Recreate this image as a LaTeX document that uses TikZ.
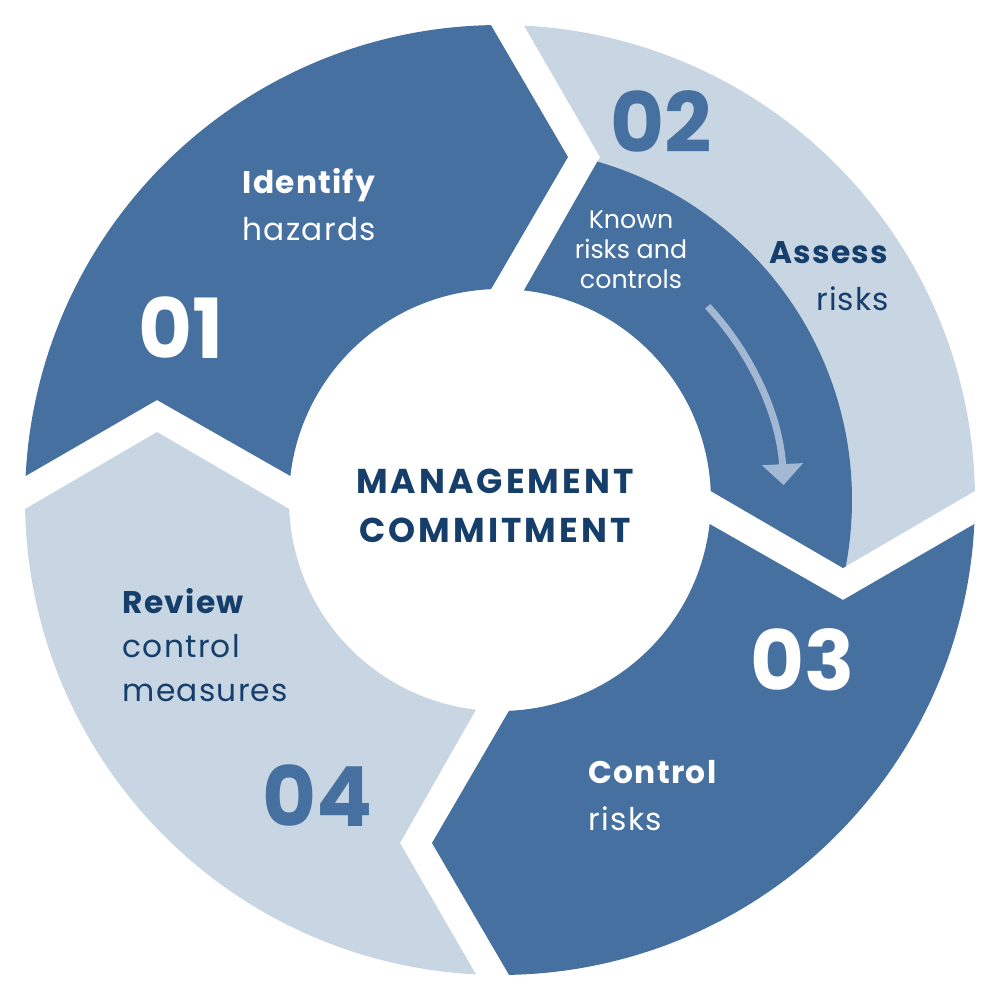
\documentclass[tikz,border=0pt]{standalone}
\usepackage{fontspec}
\setmainfont{Poppins}
\newfontfamily\segfont{Poppins}[LetterSpace=4]
\newfontfamily\hubfont{Poppins}[LetterSpace=9]
\usetikzlibrary{arrows.meta}
\definecolor{segdark}{RGB}{70,112,160}
\definecolor{seglight}{RGB}{200,214,228}
\definecolor{arrowblue}{RGB}{163,184,210}
\definecolor{navy}{RGB}{22,62,107}
% one ring segment, from 180 to 90 degrees, notch at start and point at end
\newcommand{\ringseg}{(177.1:475) -- (-343,100) -- (173.47:211)
    arc[start angle=173.47, end angle=92.44, radius=211] -- (68,343) -- (91.09:475)
    arc[start angle=91.09, end angle=177.1, radius=475] -- cycle}
\begin{document}
\begin{tikzpicture}[
    x=0.1mm, y=0.1mm,
    segtext/.style={font=\segfont\fontsize{8.9}{13.1}\selectfont, inner sep=0pt, align=left},
    segnum/.style={font=\fontsize{23.6}{24}\selectfont\bfseries, inner sep=0pt},
    hubtext/.style={font=\hubfont\fontsize{9.8}{13.9}\selectfont\bfseries, text=navy, inner sep=0pt, align=center}
]
\useasboundingbox (-500,-500) rectangle (500,500);
\foreach \k/\col in {0/segdark,1/seglight,2/segdark,3/seglight}{
    \begin{scope}[rotate=-90*\k]
        \fill[\col] \ringseg;
    \end{scope}
}
\begin{scope}[rotate=-90]
    \clip \ringseg;
    \fill[segdark] (0,0) circle[radius=352];
\end{scope}
\coordinate (arrowstart) at (43:284);
\draw[arrowblue, line width=0.7mm, -{Triangle[width=4mm,length=2.1mm]}]
    (arrowstart) arc[start angle=43, end angle=3, radius=284];
\node[segtext, text=white, anchor=base west] (identify) at (-258,260) {\textbf{Identify}\\hazards};
\node[segnum, text=white, anchor=base west] (num01) at (-362,142) {01};
\node[segnum, text=segdark, anchor=base west] (num02) at (110,348) {02};
\node[segtext, font=\fontsize{7.2}{8.5}\selectfont, text=white, align=center, anchor=base] (known) at (131,212) {Known\\risks and\\controls};
\node[segtext, text=navy, align=right, anchor=base east] (assess) at (390,190) {\textbf{Assess}\\risks};
\node[segnum, text=white, anchor=base west] (num03) at (250,-190) {03};
\node[segtext, text=white, anchor=base west] (control) at (88,-330) {\textbf{Control}\\risks};
\node[segnum, text=segdark, anchor=base west] (num04) at (-238,-326) {04};
\node[segtext, font=\segfont\fontsize{8.9}{12.5}\selectfont, text=navy, anchor=base west] (review) at (-378,-201) {\textbf{Review}\\control\\measures};
\node[hubtext, anchor=base] (hub) at (-5,-42) {MANAGEMENT\\COMMITMENT};
\end{tikzpicture}
\end{document}
